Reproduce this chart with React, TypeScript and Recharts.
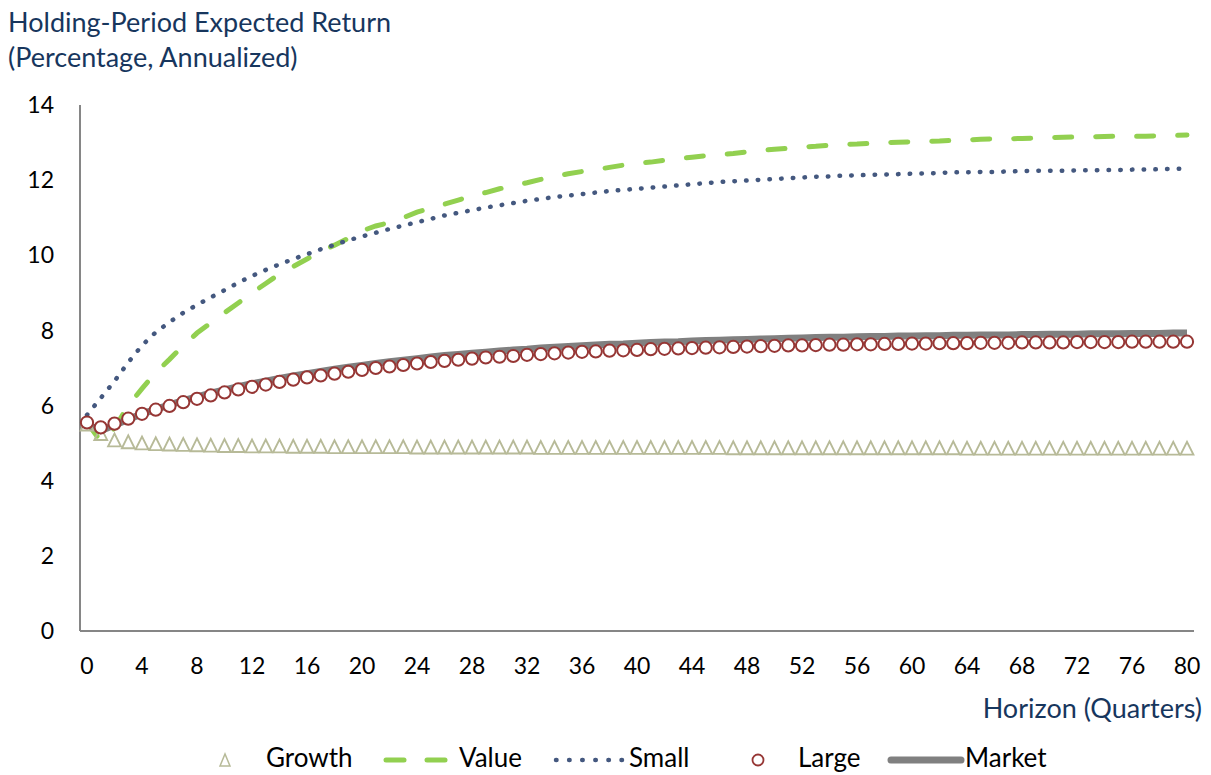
import React from "react";
import { LineChart, Line, XAxis, YAxis, Legend } from "recharts";

const quarters: number[] = Array.from({ length: 81 }, (_, i) => i);

const growth: number[] = [
  5.5, 5.25, 5.08, 5.03, 5.0, 4.98, 4.97, 4.96, 4.95, 4.94,
  4.93, 4.93, 4.92, 4.92, 4.92, 4.91, 4.91, 4.91, 4.9, 4.9,
  4.9, 4.9, 4.9, 4.9, 4.89, 4.89, 4.89, 4.89, 4.89, 4.89,
  4.89, 4.89, 4.89, 4.88, 4.88, 4.88, 4.88, 4.88, 4.88, 4.88,
  4.88, 4.88, 4.88, 4.88, 4.88, 4.88, 4.88, 4.87, 4.87, 4.87,
  4.87, 4.87, 4.87, 4.87, 4.87, 4.87, 4.87, 4.87, 4.87, 4.87,
  4.87, 4.87, 4.87, 4.87, 4.86, 4.86, 4.86, 4.86, 4.86, 4.86,
  4.86, 4.86, 4.86, 4.86, 4.86, 4.86, 4.86, 4.86, 4.86, 4.86,
  4.86,
];

const value: number[] = [
  5.55, 5.05, 5.4, 6.0, 6.45, 6.88, 7.23, 7.6, 7.93, 8.2,
  8.47, 8.73, 9.0, 9.25, 9.5, 9.7, 9.9, 10.1, 10.27, 10.45,
  10.65, 10.78, 10.87, 11.0, 11.15, 11.25, 11.36, 11.47, 11.58, 11.67,
  11.77, 11.85, 11.93, 12.02, 12.1, 12.17, 12.23, 12.28, 12.34, 12.4,
  12.45, 12.48, 12.53, 12.57, 12.61, 12.65, 12.68, 12.71, 12.75, 12.79,
  12.82, 12.85, 12.88, 12.9, 12.93, 12.95, 12.96, 12.98, 13.0, 13.01,
  13.02, 13.03, 13.04, 13.06, 13.07, 13.09, 13.1, 13.1, 13.11, 13.12,
  13.13, 13.14, 13.15, 13.15, 13.16, 13.17, 13.17, 13.17, 13.18, 13.19,
  13.2,
];

const small: number[] = [
  5.75, 6.2, 6.65, 7.15, 7.6, 7.95, 8.22, 8.47, 8.68, 8.88,
  9.07, 9.27, 9.45, 9.61, 9.76, 9.9, 10.03, 10.16, 10.28, 10.4,
  10.5, 10.6, 10.7, 10.79, 10.88, 10.97, 11.06, 11.13, 11.2, 11.27,
  11.33, 11.39, 11.45, 11.5, 11.55, 11.59, 11.63, 11.67, 11.71, 11.74,
  11.77, 11.8, 11.83, 11.86, 11.89, 11.92, 11.95, 11.97, 11.99, 12.01,
  12.03, 12.05, 12.07, 12.09, 12.1, 12.12, 12.13, 12.14, 12.15, 12.16,
  12.17, 12.18, 12.19, 12.21, 12.21, 12.22, 12.22, 12.23, 12.24, 12.25,
  12.25, 12.25, 12.26, 12.26, 12.27, 12.27, 12.28, 12.28, 12.29, 12.3,
  12.3,
];

const large: number[] = [
  5.55, 5.42, 5.52, 5.65, 5.78, 5.89, 5.99, 6.09, 6.18, 6.27,
  6.35, 6.43, 6.5, 6.56, 6.63, 6.69, 6.75, 6.8, 6.85, 6.9,
  6.95, 7.0, 7.04, 7.08, 7.12, 7.16, 7.19, 7.22, 7.25, 7.28,
  7.3, 7.32, 7.35, 7.37, 7.39, 7.41, 7.43, 7.44, 7.46, 7.47,
  7.48, 7.5, 7.51, 7.52, 7.53, 7.54, 7.55, 7.56, 7.57, 7.58,
  7.59, 7.6, 7.6, 7.61, 7.62, 7.62, 7.63, 7.63, 7.64, 7.64,
  7.65, 7.65, 7.66, 7.66, 7.66, 7.67, 7.67, 7.67, 7.68, 7.68,
  7.68, 7.68, 7.69, 7.69, 7.69, 7.69, 7.7, 7.7, 7.7, 7.7,
  7.7,
];

const market: number[] = [
  5.5, 5.33, 5.48, 5.63, 5.78, 5.9, 6.02, 6.13, 6.23, 6.33,
  6.42, 6.5, 6.58, 6.65, 6.72, 6.79, 6.85, 6.91, 6.97, 7.02,
  7.07, 7.12, 7.17, 7.21, 7.25, 7.29, 7.33, 7.36, 7.39, 7.42,
  7.45, 7.48, 7.5, 7.53, 7.55, 7.57, 7.59, 7.61, 7.63, 7.64,
  7.66, 7.68, 7.69, 7.7, 7.72, 7.73, 7.74, 7.75, 7.76, 7.77,
  7.78, 7.79, 7.8, 7.81, 7.82, 7.82, 7.83, 7.84, 7.84, 7.85,
  7.85, 7.86, 7.86, 7.87, 7.87, 7.88, 7.88, 7.88, 7.89, 7.89,
  7.9, 7.9, 7.9, 7.91, 7.91, 7.91, 7.92, 7.92, 7.92, 7.93,
  7.93,
];

const yTicks: number[] = [0, 2, 4, 6, 8, 10, 12, 14];

const seriesNames = ["Growth", "Value", "Small", "Large", "Market"];

const data = quarters.map((q, i) => ({
  q,
  Growth: growth[i],
  Value: value[i],
  Small: small[i],
  Large: large[i],
  Market: market[i],
}));

const FONT = "Lato, 'Open Sans', sans-serif";
const C_GROWTH = "#b7ba98";
const C_VALUE = "#92d050";
const C_SMALL = "#44587f";
const C_LARGE = "#963634";
const C_MARKET = "#808080";
const C_TITLE = "#17365d";
const DOTS = "0.5 11.2";
const DASH = "17 24";

const Triangle = (props: any) => {
  const { cx, cy } = props;
  if (cx == null || cy == null) return null;
  return (
    <polygon
      key={`t-${cx}`}
      points={`${cx - 6.4},${cy + 6.2} ${cx + 6.4},${cy + 6.2} ${cx},${cy - 6.6}`}
      fill="none"
      stroke={C_GROWTH}
      strokeWidth={1.9}
      strokeLinejoin="miter"
    />
  );
};

const CircleDot = (props: any) => {
  const { cx, cy } = props;
  if (cx == null || cy == null) return null;
  return (
    <circle key={`c-${cx}`} cx={cx} cy={cy} r={6.1} fill="#ffffff" stroke={C_LARGE} strokeWidth={2} />
  );
};

const LegendContent = () => {
  const ty = 25;
  const my = 18;
  const textStyle = { fontFamily: FONT, fontSize: 26, fill: "#000" } as any;
  return (
    <svg width={1211} height={32} style={{ display: "block", overflow: "visible" }}>
      <polygon
        points={`${220},${my + 6} ${230},${my + 6} ${225},${my - 6}`}
        fill="none"
        stroke={C_GROWTH}
        strokeWidth={1.5}
      />
      <text x={266} y={ty} style={textStyle}>{seriesNames[0]}</text>
      <line x1={386} y1={my} x2={404} y2={my} stroke={C_VALUE} strokeWidth={5} strokeLinecap="round" />
      <line x1={427} y1={my} x2={445} y2={my} stroke={C_VALUE} strokeWidth={5} strokeLinecap="round" />
      <text x={459} y={ty} style={textStyle}>{seriesNames[1]}</text>
      <line x1={556} y1={my} x2={623} y2={my} stroke={C_SMALL} strokeWidth={4.5} strokeLinecap="round" strokeDasharray="0.5 12.6" />
      <text x={629} y={ty} style={textStyle}>{seriesNames[2]}</text>
      <circle cx={758} cy={my} r={5.5} fill="#fff" stroke={C_LARGE} strokeWidth={1.8} />
      <text x={798} y={ty} style={textStyle}>{seriesNames[3]}</text>
      <line x1={891} y1={my} x2={961} y2={my} stroke={C_MARKET} strokeWidth={7} strokeLinecap="round" />
      <text x={965} y={ty} style={textStyle}>{seriesNames[4]}</text>
    </svg>
  );
};

export default function App() {
  return (
    <div
      style={{
        position: "fixed",
        left: 0,
        top: 0,
        width: 1211,
        height: 775,
        overflow: "hidden",
        background: "#fff",
        fontFamily: FONT,
      }}
    >
      <div
        style={{
          position: "absolute",
          left: 8,
          top: 4,
          fontSize: 27,
          lineHeight: "35px",
          color: C_TITLE,
          whiteSpace: "nowrap",
        }}
      >
        <div>Holding-Period Expected Return</div>
        <div>(Percentage, Annualized)</div>
      </div>
      <div
        style={{
          position: "absolute",
          right: 9,
          top: 693,
          fontSize: 27,
          lineHeight: "30px",
          color: C_TITLE,
          whiteSpace: "nowrap",
        }}
      >
        Horizon (Quarters)
      </div>
      <div style={{ position: "absolute", left: 0, top: 0 }}>
        <LineChart
          width={1211}
          height={775}
          data={data}
          margin={{ top: 105, right: 17, left: 0, bottom: 84 }}
        >
          <XAxis
            dataKey="q"
            type="category"
            interval={3}
            padding={{ left: 7, right: 7 }}
            tickLine={false}
            tickSize={0}
            tickMargin={27}
            axisLine={{ stroke: "#868686", strokeWidth: 2 }}
            height={60}
            tick={{ fontFamily: FONT, fontSize: 23, fill: "#000" }}
          />
          <YAxis
            domain={[0, 14]}
            ticks={yTicks}
            tickLine={false}
            tickSize={0}
            tickMargin={26}
            width={80}
            axisLine={{ stroke: "#868686", strokeWidth: 2 }}
            tick={{ fontFamily: FONT, fontSize: 23, fill: "#000" }}
          />
          <Legend
            verticalAlign="middle"
            align="center"
            content={<LegendContent />}
            wrapperStyle={{ top: 742, left: 0, width: 1211, height: 32 }}
          />
          <Line
            dataKey="Growth"
            stroke="none"
            dot={<Triangle />}
            activeDot={false}
            isAnimationActive={false}
          />
          <Line
            dataKey="Value"
            stroke={C_VALUE}
            strokeWidth={5}
            strokeDasharray={DASH}
            strokeLinecap="round"
            dot={false}
            activeDot={false}
            isAnimationActive={false}
          />
          <Line
            dataKey="Small"
            stroke={C_SMALL}
            strokeWidth={4.5}
            strokeDasharray={DOTS}
            strokeLinecap="round"
            dot={false}
            activeDot={false}
            isAnimationActive={false}
          />
          <Line
            dataKey="Market"
            stroke={C_MARKET}
            strokeWidth={7}
            dot={false}
            activeDot={false}
            isAnimationActive={false}
          />
          <Line
            dataKey="Large"
            stroke="none"
            dot={<CircleDot />}
            activeDot={false}
            isAnimationActive={false}
          />
        </LineChart>
      </div>
    </div>
  );
}
